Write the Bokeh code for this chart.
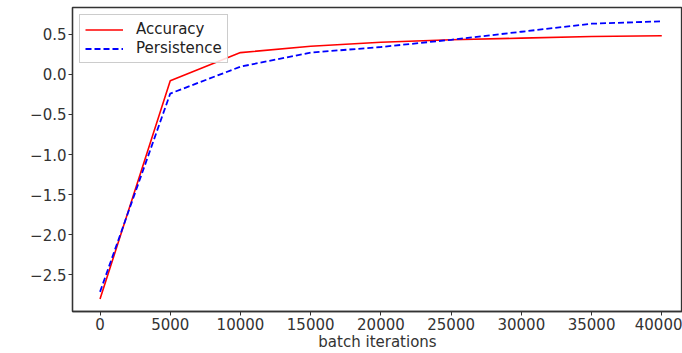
from bokeh.plotting import figure
from bokeh.models import Range1d, FixedTicker, Legend, LegendItem
from bokeh.embed import file_html
from bokeh.resources import INLINE

iterations = [0, 5000, 10000, 15000, 20000, 25000, 30000, 35000, 40000]
accuracy = [-2.80, -0.08, 0.27, 0.35, 0.40, 0.43, 0.45, 0.47, 0.48]
persistence = [-2.71, -0.24, 0.095, 0.27, 0.34, 0.43, 0.53, 0.63, 0.66]
x_ticks = [0, 5000, 10000, 15000, 20000, 25000, 30000, 35000, 40000]
y_ticks = [-2.5, -2.0, -1.5, -1.0, -0.5, 0.0, 0.5]

FONT = "DejaVu Sans"
FS = "15px"

p = figure(width=682, height=353, output_backend="svg", toolbar_location=None,
           x_range=Range1d(-1960, 41475), y_range=Range1d(-2.955, 0.832),
           min_border_left=72, min_border_right=0, min_border_top=7, min_border_bottom=38)
p.background_fill_color = "white"
p.border_fill_color = "white"
p.outline_line_color = "#333333"
p.outline_line_width = 1.3
p.xgrid.visible = False
p.ygrid.visible = False

r1 = p.line(iterations, accuracy, line_color="#ff0000", line_width=1.6)
r2 = p.line(iterations, persistence, line_color="#0000ff", line_width=1.8, line_dash="6 3")

for ax in (p.xaxis[0], p.yaxis[0]):
    ax.axis_line_color = "#333333"
    ax.axis_line_width = 1.3
    ax.major_tick_line_color = "#333333"
    ax.major_tick_out = 4
    ax.major_tick_in = 0
    ax.minor_tick_line_color = None
    ax.major_label_text_font = FONT
    ax.major_label_text_font_size = FS
    ax.major_label_text_color = "#333333"
    ax.major_label_standoff = 2

p.xaxis.ticker = FixedTicker(ticks=x_ticks)
p.xaxis.major_label_overrides = {t: str(t) for t in x_ticks}
p.yaxis.ticker = FixedTicker(ticks=y_ticks)
p.yaxis.major_label_overrides = {t: f"{t:.1f}".replace("-", "\u2212") for t in y_ticks}
p.xaxis.axis_label = "batch iterations"
p.xaxis.axis_label_text_font = FONT
p.xaxis.axis_label_text_font_size = FS
p.xaxis.axis_label_text_font_style = "normal"
p.xaxis.axis_label_text_color = "#333333"
p.xaxis.axis_label_standoff = 0

legend = Legend(items=[LegendItem(label="Accuracy", renderers=[r1]),
                       LegendItem(label="Persistence", renderers=[r2])],
                location="top_left")
legend.label_text_font = FONT
legend.label_text_font_size = FS
legend.label_text_color = "#222222"
legend.border_line_color = "#cccccc"
legend.border_line_alpha = 1
legend.background_fill_alpha = 0.85
legend.glyph_width = 38
legend.glyph_height = 15
legend.label_standoff = 13
legend.label_height = 15
legend.spacing = 1
legend.padding = 5
legend.margin = 7
p.add_layout(legend)

open("out.html", "w").write(file_html(p, INLINE))
